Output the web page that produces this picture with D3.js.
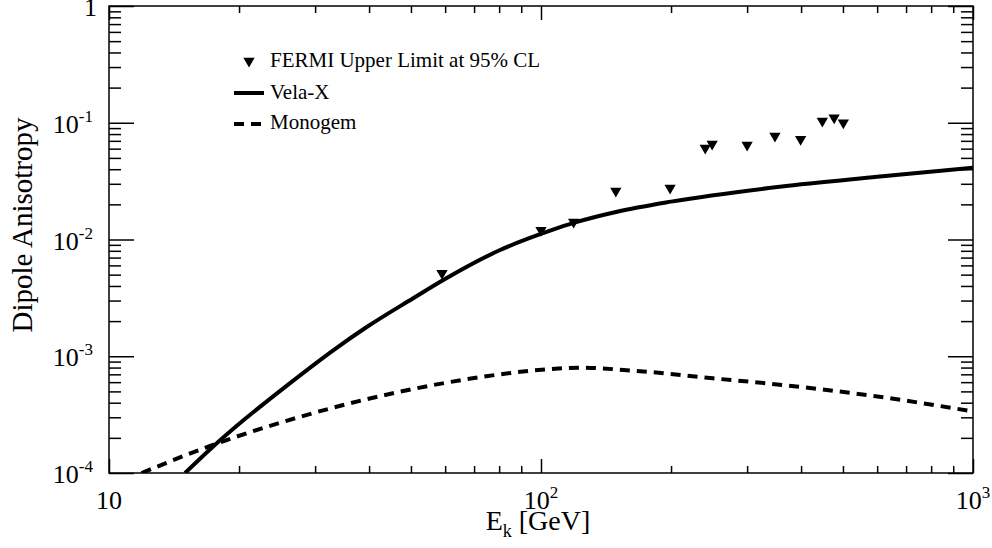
<html>
<head>
<script src="https://d3js.org/d3.v7.min.js"></script>
<style type="text/css">
    body { margin: 0; background: #fff; }
    svg { display: block; }
    text { font-family: "Liberation Serif", "Times New Roman", serif; fill: #000; }
</style>
</head>
<body>
<svg id="chart" width="992" height="548"></svg>
<script type="text/javascript">

// energies in GeV, anisotropy values
const fermiE = [59, 100, 119, 149, 199, 240, 249, 300, 348, 399, 448, 477, 501];
const fermiA = [5.13e-3, 0.012, 0.0141, 0.026, 0.0276, 0.0608, 0.0658, 0.0645, 0.077, 0.0721, 0.1035, 0.1105, 0.100];

const velaE = [15, 17.4, 20.5, 26.2, 33.1, 39.5, 50.6, 59.4, 80.4, 105, 120, 150, 200, 357, 600, 1000];
const velaA = [1e-4, 1.68e-4, 2.84e-4, 5.86e-4, 1.13e-3, 1.78e-3, 3.14e-3, 4.5e-3, 8.13e-3, 0.0119, 0.0140, 0.0173, 0.0211, 0.0283, 0.0344, 0.0412];

const monoE = [11.9, 17.4, 27.7, 47.2, 73.5, 103, 123, 164, 250, 333, 567, 1000];
const monoA = [1e-4, 1.74e-4, 3.03e-4, 4.97e-4, 6.68e-4, 7.73e-4, 7.98e-4, 7.52e-4, 6.47e-4, 5.86e-4, 4.66e-4, 3.37e-4];

const xMajorExp = [1, 2, 3];
const yMajorExp = [0, -1, -2, -3, -4];
const legendLabels = ["FERMI Upper Limit at 95% CL", "Vela-X", "Monogem"];

const L = 109, R = 973, T = 6, B = 473;

const svg = d3.select("#chart");

const x = d3.scaleLog().domain([10, 1000]).range([L, R]);
const y = d3.scaleLog().domain([1e-4, 1]).range([B, T]);

const xMajor = xMajorExp.map(e => Math.pow(10, e));
const yMajor = yMajorExp.map(e => Math.pow(10, e));
const xMinor = [];
for (let d = 10; d < 1000; d *= 10)
    for (let k = 2; k < 10; k++) xMinor.push(k * d);
const yMinor = [];
for (let d = 1e-4; d < 0.99; d *= 10)
    for (let k = 2; k < 10; k++) yMinor.push(k * d);

// clip for the curves
svg.append("defs").append("clipPath").attr("id", "plotclip")
    .append("rect").attr("x", L).attr("y", T).attr("width", R - L).attr("height", B - T);

// ticks on all four sides, pointing inward
function ticks(axisFn, pos, vals, size) {
    const g = svg.append("g")
        .attr("transform", pos)
        .call(axisFn.tickValues(vals).tickSize(size).tickFormat(""));
    g.select(".domain").remove();
    g.selectAll(".tick line").attr("stroke", "#000").attr("stroke-width", 1.5);
}
ticks(d3.axisBottom(x), `translate(0,${B})`, xMajor, -14);
ticks(d3.axisBottom(x), `translate(0,${B})`, xMinor, -7);
ticks(d3.axisTop(x), `translate(0,${T})`, xMajor, -14);
ticks(d3.axisTop(x), `translate(0,${T})`, xMinor, -7);
ticks(d3.axisLeft(y), `translate(${L},0)`, yMajor, -25);
ticks(d3.axisLeft(y), `translate(${L},0)`, yMinor, -12);
ticks(d3.axisRight(y), `translate(${R},0)`, yMajor, -25);
ticks(d3.axisRight(y), `translate(${R},0)`, yMinor, -12);

svg.append("rect")
    .attr("x", L).attr("y", T).attr("width", R - L).attr("height", B - T)
    .attr("fill", "none").attr("stroke", "#000").attr("stroke-width", 1.5);

// tick labels with superscripts
function powLabel(sel, e) {
    if (e === 0) { sel.text("1"); return; }
    sel.append("tspan").text("10");
    if (e !== 1) sel.append("tspan").attr("font-size", 17).attr("dy", -11).text(e);
}

xMajorExp.forEach(e => {
    const t = svg.append("text")
        .attr("x", x(Math.pow(10, e))).attr("y", 509)
        .attr("text-anchor", "middle").attr("font-size", 26);
    powLabel(t, e);
});
yMajorExp.forEach(e => {
    const t = svg.append("text")
        .attr("x", e === 0 ? 97 : 93).attr("y", y(Math.pow(10, e)) + 10)
        .attr("text-anchor", "end").attr("font-size", 26);
    powLabel(t, e);
});

// axis titles
const xt = svg.append("text").attr("x", 538).attr("y", 530)
    .attr("text-anchor", "middle").attr("font-size", 28);
xt.append("tspan").text("E");
xt.append("tspan").attr("font-size", 18).attr("dy", 7).text("k");
xt.append("tspan").attr("dy", -7).text(" [GeV]");

svg.append("text")
    .attr("transform", "translate(32,225) rotate(-90)")
    .attr("text-anchor", "middle").attr("font-size", 29)
    .text("Dipole Anisotropy");

// curves
const line = d3.line().x(d => x(d[0])).y(d => y(d[1])).curve(d3.curveMonotoneX);
const plot = svg.append("g").attr("clip-path", "url(#plotclip)");

plot.append("path")
    .attr("d", line(d3.zip(velaE, velaA)))
    .attr("fill", "none").attr("stroke", "#000").attr("stroke-width", 4);

plot.append("path")
    .attr("d", line(d3.zip(monoE, monoA)))
    .attr("fill", "none").attr("stroke", "#000").attr("stroke-width", 4)
    .attr("stroke-dasharray", "10,7");

const tri = d3.symbol().type(d3.symbolTriangle).size(55);
svg.append("g").selectAll("path")
    .data(d3.zip(fermiE, fermiA))
    .join("path")
    .attr("d", tri)
    .attr("transform", d => `translate(${x(d[0])},${y(d[1])}) rotate(180)`)
    .attr("fill", "#000");

// legend
const lg = svg.append("g");
lg.append("path").attr("d", tri).attr("transform", "translate(249,61) rotate(180)").attr("fill", "#000");
lg.append("line").attr("x1", 234).attr("x2", 264).attr("y1", 93).attr("y2", 93)
    .attr("stroke", "#000").attr("stroke-width", 4);
lg.append("line").attr("x1", 234).attr("x2", 263).attr("y1", 124).attr("y2", 124)
    .attr("stroke", "#000").attr("stroke-width", 4).attr("stroke-dasharray", "10,7");
const lgY = [67, 99, 129];
lg.selectAll("text").data(legendLabels).join("text")
    .attr("x", 270).attr("y", (d, i) => lgY[i])
    .attr("font-size", 21)
    .text(d => d);

</script>
</body>
</html>
